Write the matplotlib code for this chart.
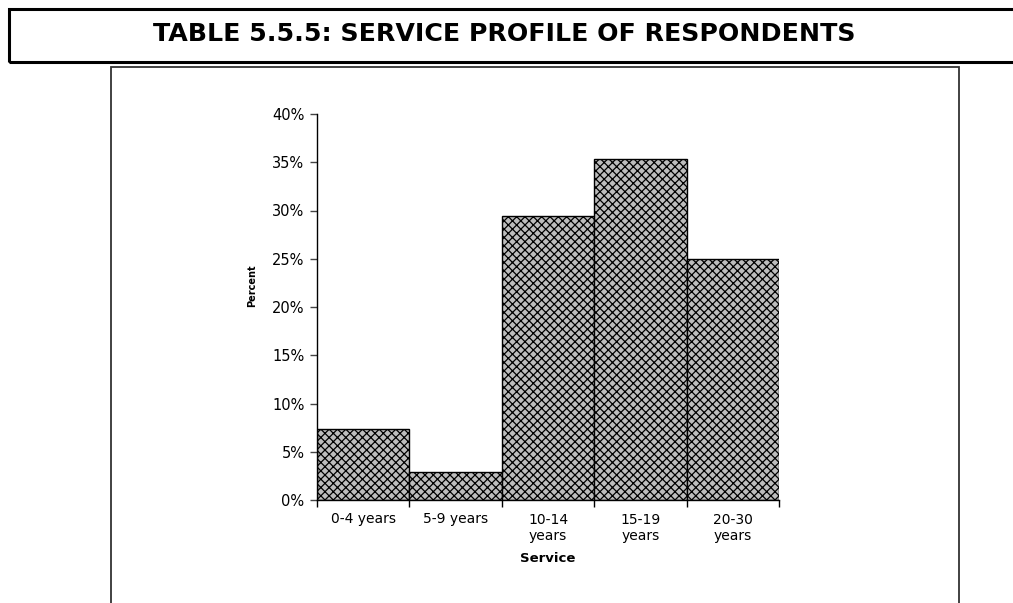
import matplotlib
matplotlib.use("Agg")
import matplotlib.pyplot as plt
from matplotlib.patches import Rectangle
from matplotlib.ticker import FuncFormatter

categories = ["0-4 years", "5-9 years", "10-14\nyears", "15-19\nyears", "20-30\nyears"]
percent = [7.35, 2.94, 29.41, 35.29, 25.0]
y_ticks = [0, 5, 10, 15, 20, 25, 30, 35, 40]

W, H = 1013, 603
plt.rcParams["font.family"] = "DejaVu Sans"
plt.rcParams["hatch.linewidth"] = 0.9
plt.rcParams["hatch.color"] = "#333333"

fig = plt.figure(figsize=(W / 100, H / 100), dpi=100)


def fx(px):
    return px / W


def fy(py):
    return 1 - py / H


# heading box and the chart frame below it
fig.add_artist(Rectangle((fx(8.5), fy(61.5)), fx(1030 - 8.5), fy(9.5) - fy(61.5),
                         transform=fig.transFigure, fill=False, lw=2.2,
                         edgecolor="black", clip_on=False))
fig.add_artist(Rectangle((fx(111), fy(620)), fx(959 - 111), fy(67) - fy(620),
                         transform=fig.transFigure, fill=False, lw=1.3,
                         edgecolor="#333333", clip_on=False))
fig.text(fx(504), fy(34), "TABLE 5.5.5: SERVICE PROFILE OF RESPONDENTS",
         ha="center", va="center", fontsize=18.2, fontweight="bold")

ax = fig.add_axes([fx(317), fy(500), fx(779 - 317), fy(114) - fy(500)])
x = range(len(categories))
ax.bar(x, percent, width=1.0, facecolor="#bdbdbd", edgecolor="black",
       linewidth=1.0, hatch="xxxx")

ax.set_xlim(-0.5, len(categories) - 0.5)
ax.set_ylim(0, 40)
ax.set_yticks(y_ticks)
ax.yaxis.set_major_formatter(FuncFormatter(lambda v, p: f"{v:.0f}%"))
ax.tick_params(axis="y", length=5, width=1, pad=4, labelsize=10.5, color="#444444")

# labels under bar centres, tick marks on bar edges
ax.set_xticks(list(x))
ax.set_xticklabels(categories, fontsize=10, linespacing=1.2)
ax.tick_params(axis="x", which="major", length=0, pad=9)
ax.set_xticks([i - 0.5 for i in range(len(categories) + 1)], minor=True)
ax.tick_params(axis="x", which="minor", length=5, width=1, color="black")

for side in ["top", "right"]:
    ax.spines[side].set_visible(False)
ax.spines["left"].set_linewidth(1)
ax.spines["bottom"].set_linewidth(1)

ax.set_xlabel("Service", fontsize=9.5, fontweight="bold", va="center")
ax.xaxis.set_label_coords(fx(548), fy(558), transform=fig.transFigure)

ax.set_ylabel("Percent", fontsize=7, fontweight="bold", va="center")
ax.yaxis.set_label_coords(fx(252), fy(286), transform=fig.transFigure)

fig.savefig("out.png", dpi=100)
